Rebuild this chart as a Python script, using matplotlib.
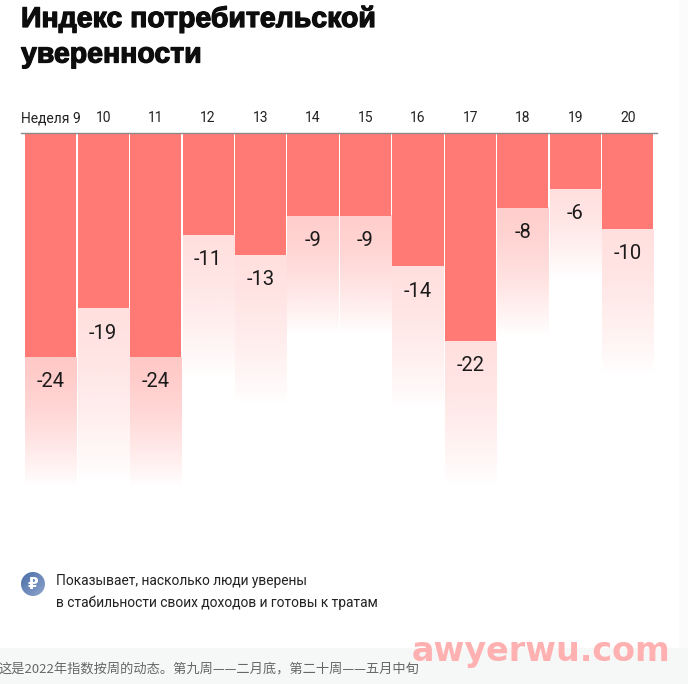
#!/usr/bin/env python3
import numpy as np
import matplotlib
matplotlib.use("Agg")
import matplotlib.pyplot as plt
import matplotlib.patheffects as pe
from matplotlib.lines import Line2D
from matplotlib.patches import Circle, Rectangle

W, H = 688, 684

weeks = ["Неделя 9", "10", "11", "12", "13", "14", "15", "16", "17", "18", "19", "20"]
index_values = [-24, -18.8, -24, -10.9, -13.1, -8.9, -8.9, -14.3, -22.3, -8.0, -6.0, -10.3]

title_lines = ["Индекс потребительской", "уверенности"]
note_lines = ["Показывает, насколько люди уверены",
              "в стабильности своих доходов и готовы к тратам"]
caption = "这是2022年指数按周的动态。第九周——二月底，第二十周——五月中旬"
watermark = "awyerwu.com"

# how the pale tail below each bar looks (start opacity, length in index units)
tail_alpha = [0.42, 0.24, 0.42, 0.24, 0.24, 0.38, 0.38, 0.24, 0.24, 0.38, 0.24, 0.24]
tail_depth = [13.9, 18.7, 13.9, 15.5, 16.0, 12.8, 12.8, 15.4, 15.6, 13.8, 9.5, 15.7]

RED = "#ff7a74"
PX = 9.33   # pixels per index point


def fx(px):
    return px / W


def fy(px):
    return 1 - px / H


def tail(ax, i, value, alpha, depth, width=0.975):
    grad = np.zeros((128, 1, 4))
    grad[..., :3] = matplotlib.colors.to_rgb("#ff7f7a")
    grad[:, 0, 3] = alpha * (1 - np.linspace(0, 1, 128) ** 1.5)
    ax.imshow(grad, extent=(i - width / 2, i + width / 2, value - depth, value),
              aspect="auto", interpolation="bilinear", zorder=1)


fig = plt.figure(figsize=(W / 100, H / 100), dpi=100, facecolor="white")

# page: white panel, pale strip at right, grey band at the bottom
fig.add_artist(Rectangle((fx(679), 0), fx(9), 1, transform=fig.transFigure,
                         color="#fbfbfb", lw=0))
fig.add_artist(Rectangle((0, 0), 1, fy(648), transform=fig.transFigure,
                         color="#f6f7f7", lw=0))

ax = fig.add_axes([fx(24.5), fy(500), fx(629.5), (500 - 133) / H])
ax.axis("off")
x = np.arange(len(weeks))
ax.bar(x, index_values, width=0.975, color=RED, zorder=2)
for i, v in enumerate(index_values):
    tail(ax, i, v, tail_alpha[i], tail_depth[i])
    ax.text(i, v - 2.65, str(round(v)), ha="center", va="center", fontsize=14.5,
            family="Roboto", color="#1a1a1a", zorder=3)
    ax.text(i, 1.6, weeks[i], ha="center", va="center", fontsize=10,
            family="Roboto", color="#222222", clip_on=False)
ax.set_xlim(-0.5, len(weeks) - 0.5)
ax.set_ylim(-(500 - 133) / PX, 0)

fig.add_artist(Line2D([fx(21), fx(657)], [fy(132.5)] * 2, color="#8a8a8a", lw=1))

for line, py in zip(title_lines, [19.5, 55.5]):
    fig.text(fx(21), fy(py), line, fontsize=20.5, family="Liberation Sans",
             weight="bold", color="#0d0d0d", va="center", ha="left",
             path_effects=[pe.withStroke(linewidth=0.9, foreground="#0d0d0d")])

# rouble badge
icon = fig.add_axes([fx(21), fy(596), fx(24), 24 / H])
icon.set_xlim(0, 1)
icon.set_ylim(0, 1)
icon.axis("off")
shade = np.linspace(0, 1, 64)[None, :] + np.linspace(0, 1, 64)[:, None]
im = icon.imshow(shade, cmap=matplotlib.colors.LinearSegmentedColormap.from_list(
    "badge", ["#4a6ea8", "#8fa5cc"]), extent=(0, 1, 0, 1), aspect="auto")
im.set_clip_path(Circle((0.5, 0.5), 0.5, transform=icon.transData))
icon.text(0.5, 0.47, "₽", ha="center", va="center", fontsize=11, weight="bold",
          color="white", family="DejaVu Sans")

for line, py in zip(note_lines, [580.5, 602.5]):
    fig.text(fx(56), fy(py), line, fontsize=9.87, family="Roboto", color="#222222",
             va="center", ha="left")

fig.text(fx(-1), fy(670), caption, fontsize=9.5, color="#666666", va="center", ha="left",
         family=["Noto Sans CJK SC", "DejaVu Sans"])
fig.text(fx(412), fy(652), watermark, fontsize=24, weight="bold", color="#ffb0b0",
         family="DejaVu Sans", va="center", ha="left")

fig.savefig("out.png", dpi=100)
plt.close(fig)
